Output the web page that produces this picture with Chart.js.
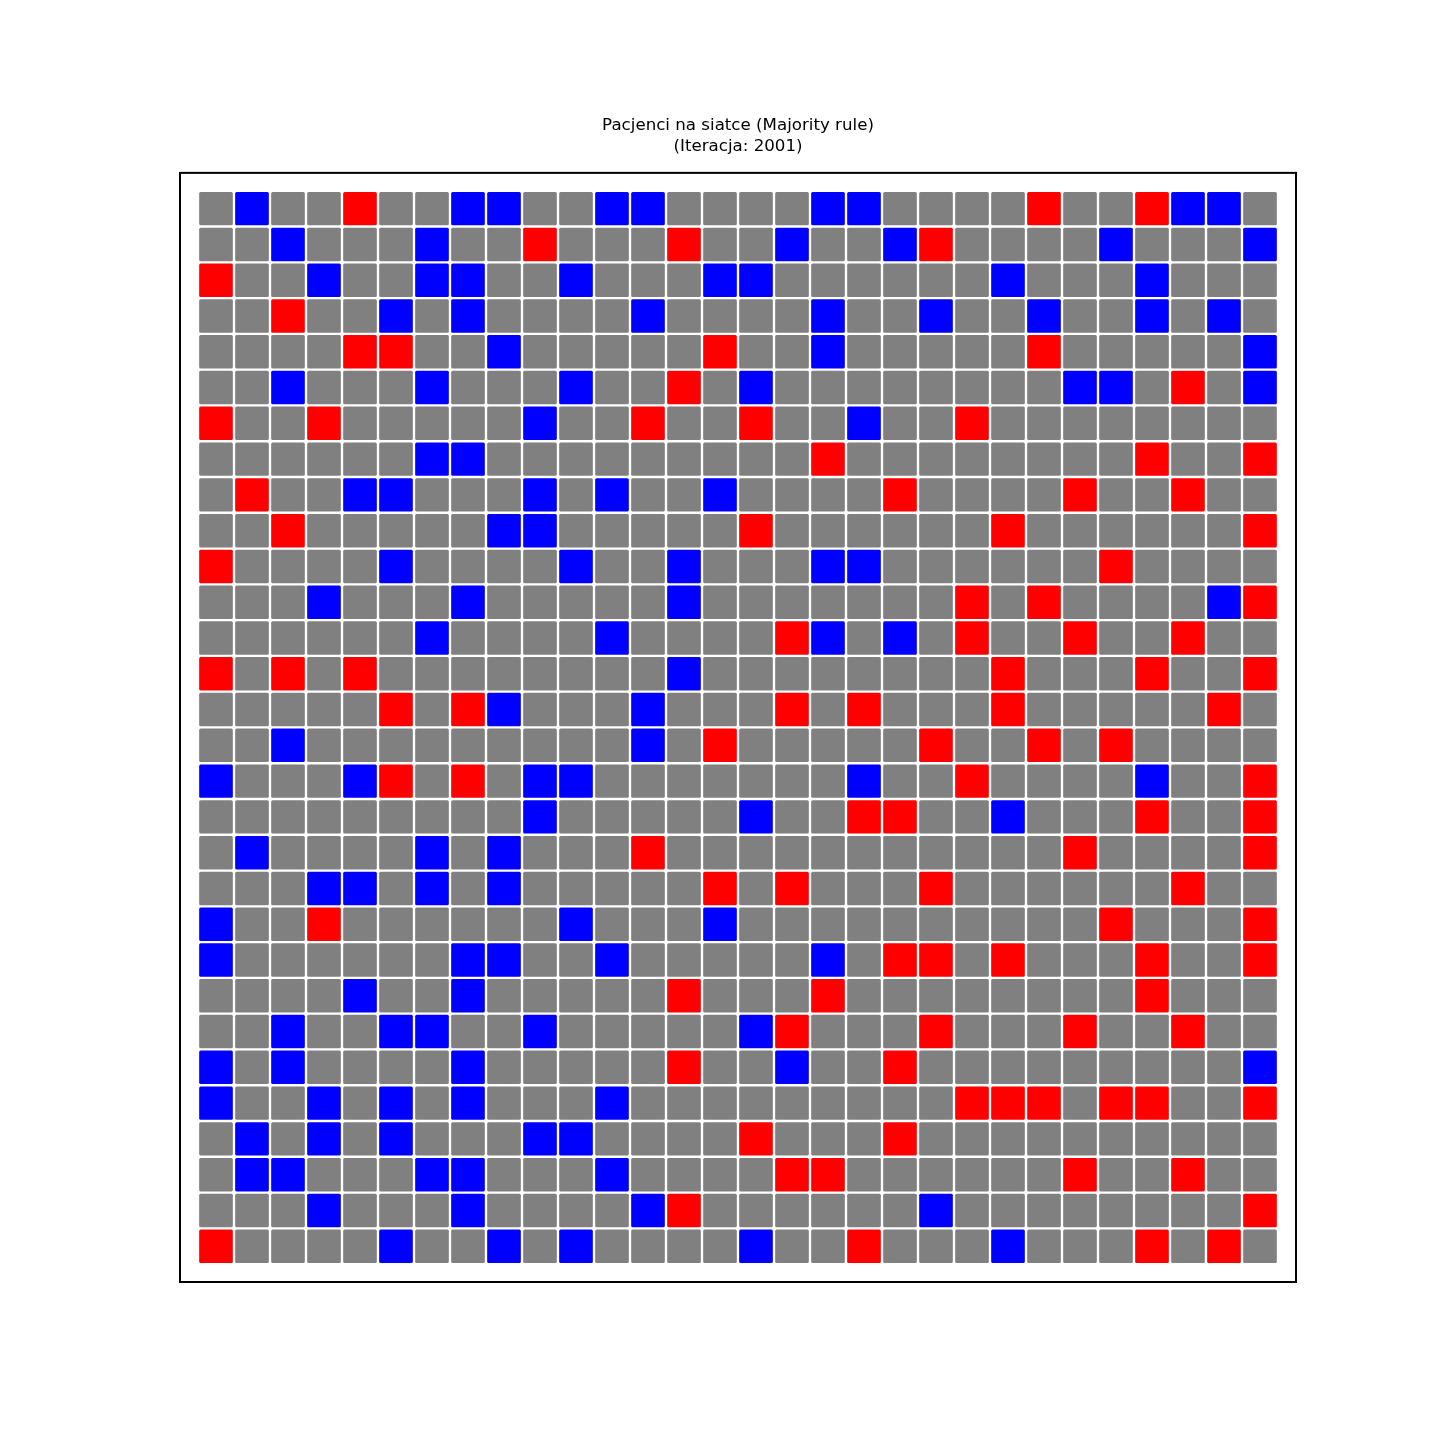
<!DOCTYPE html>
<html>
<head>
<meta charset="utf-8">
<script src="https://cdn.jsdelivr.net/npm/chart.js@4/dist/chart.umd.min.js"></script>
<style>
  html, body { margin: 0; padding: 0; background: #ffffff; }
  #wrap { width: 1440px; height: 1440px; }
</style>
</head>
<body>
<div id="wrap"><canvas id="c" width="1440" height="1440"></canvas></div>
<script>
// ---- Data (30 x 30 grid, row 0 at top) ----
const titleLines = ['Pacjenci na siatce (Majority rule)', '(Iteracja: 2001)'];
const columns = Array.from({length: 30}, (_, i) => i);   // column indices 0..29
const rowsIdx = Array.from({length: 30}, (_, i) => i);   // row indices 0..29

// Column indices of blue cells for each row
const blueCols = [
  [1,7,8,11,12,17,18,27,28],
  [2,6,16,19,25,29],
  [3,6,7,10,14,15,22,26],
  [5,7,12,17,20,23,26,28],
  [8,17,29],
  [2,6,10,15,24,25,29],
  [9,18],
  [6,7],
  [4,5,9,11,14],
  [8,9],
  [5,10,13,17,18],
  [3,7,13,28],
  [6,11,17,19],
  [13],
  [8,12],
  [2,12],
  [0,4,9,10,18,26],
  [9,15,22],
  [1,6,8],
  [3,4,6,8],
  [0,10,14],
  [0,7,8,11,17],
  [4,7],
  [2,5,6,9,15],
  [0,2,7,16,29],
  [0,3,5,7,11],
  [1,3,5,9,10],
  [1,2,6,7,11],
  [3,7,12,20],
  [5,8,10,15,22]
];

// Column indices of red cells for each row
const redCols = [
  [4,23,26],
  [9,13,20],
  [0],
  [2],
  [4,5,14,23],
  [13,27],
  [0,3,12,15,21],
  [17,26,29],
  [1,19,24,27],
  [2,15,22,29],
  [0,25],
  [21,23,29],
  [16,21,24,27],
  [0,2,4,22,26,29],
  [5,7,16,18,22,28],
  [14,20,23,25],
  [5,7,21,29],
  [18,19,26,29],
  [12,24,29],
  [14,16,20,27],
  [3,25,29],
  [19,20,22,26,29],
  [13,17,26],
  [16,20,24,27],
  [13,19],
  [21,22,23,25,26,29],
  [15,19],
  [16,17,24,27],
  [13,29],
  [0,18,26,28]
];

const stateColors = { neutral: '#808080', blue: '#0000ff', red: '#ff0000' };

function cellState(r, c) {
  if (blueCols[r].includes(c)) return 'blue';
  if (redCols[r].includes(c)) return 'red';
  return 'neutral';
}

const datasets = rowsIdx.map(r => ({
  label: 'row ' + r,
  data: columns.map(c => ({ x: c, y: [r - 0.5, r + 0.5] })),
  backgroundColor: columns.map(c => stateColors[cellState(r, c)]),
  borderColor: '#ffffff',
  borderWidth: 1.5,
  borderRadius: 3,
  borderSkipped: false,
  grouped: false,
  barPercentage: 1.0,
  categoryPercentage: 1.0
}));

const framePlugin = {
  id: 'frame',
  beforeDraw(chart) {
    const ctx = chart.ctx;
    ctx.save();
    ctx.fillStyle = '#ffffff';
    ctx.fillRect(0, 0, chart.width, chart.height);
    ctx.restore();
  },
  afterDatasetsDraw(chart) {
    const a = chart.chartArea;
    const ctx = chart.ctx;
    ctx.save();
    ctx.strokeStyle = '#000000';
    ctx.lineWidth = 2;
    ctx.strokeRect(a.left, a.top, a.right - a.left, a.bottom - a.top);
    ctx.restore();
  }
};

new Chart(document.getElementById('c'), {
  type: 'bar',
  data: { datasets },
  plugins: [framePlugin],
  options: {
    responsive: false,
    animation: false,
    devicePixelRatio: 1,
    layout: { padding: { top: 115.5, left: 180, right: 144, bottom: 158 } },
    plugins: {
      legend: { display: false },
      tooltip: { enabled: false },
      title: {
        display: true,
        text: titleLines,
        color: '#000000',
        font: { family: 'DejaVu Sans', size: 16.67, weight: 'normal', lineHeight: 1.25 },
        padding: { top: 0, bottom: 15.7 }
      }
    },
    scales: {
      x: { type: 'linear', display: false, offset: false, min: -1, max: 30, ticks: { stepSize: 1 }, grid: { offset: false } },
      y: { type: 'linear', display: false, min: -1, max: 30, reverse: true, ticks: { stepSize: 1 } }
    }
  }
});
</script>
</body>
</html>
